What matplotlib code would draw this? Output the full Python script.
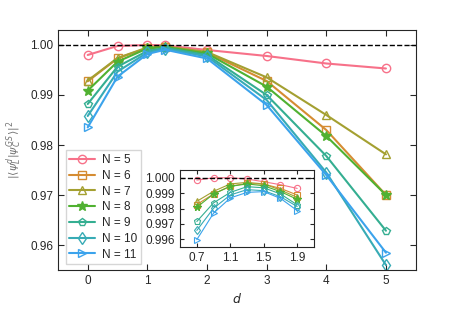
import numpy as np
import matplotlib
matplotlib.use('Agg')
import matplotlib.pyplot as plt
import seaborn as sns

sns.set_style('ticks')
plt.rcParams['font.family'] = ['Liberation Sans', 'DejaVu Sans']
plt.rcParams['mathtext.fontset'] = 'dejavusans'

# main panel data
d = [0, 0.5, 1, 1.3, 2, 3, 4, 5]
labels = ['N = 5', 'N = 6', 'N = 7', 'N = 8', 'N = 9', 'N = 10', 'N = 11']
markers = ['o', 's', '^', '*', 'p', 'd', '>']
f5 = [0.9980, 0.9998, 1.0000, 0.99992, 0.9990, 0.9978, 0.9963, 0.9953]
f6 = [0.99273, 0.99733, 0.9994, 0.99963, 0.9985, 0.9928, 0.9830, 0.9700]
f7 = [0.99287, 0.99740, 0.9995, 0.99970, 0.9986, 0.99353, 0.9860, 0.97813]
f8 = [0.99087, 0.99667, 0.9993, 0.99960, 0.9983, 0.99167, 0.9818, 0.9700]
f9 = [0.98820, 0.99567, 0.9988, 0.99942, 0.9980, 0.9900, 0.9778, 0.96287]
f10 = [0.98580, 0.99467, 0.9985, 0.99923, 0.9977, 0.9890, 0.9745, 0.9560]
f11 = [0.98353, 0.99367, 0.9982, 0.99905, 0.9973, 0.9880, 0.9740, 0.95847]
fid = [f5, f6, f7, f8, f9, f10, f11]

# inset data
d_in = [0.7, 0.9, 1.1, 1.3, 1.5, 1.7, 1.9]
g5 = [0.99985, 1.0000, 1.0000, 0.99992, 0.99974, 0.99955, 0.99931]
g6 = [0.99826, 0.99895, 0.99946, 0.99963, 0.99959, 0.99931, 0.99888]
g7 = [0.99847, 0.99912, 0.99960, 0.99970, 0.99960, 0.99920, 0.99873]
g8 = [0.99808, 0.99895, 0.99944, 0.99960, 0.99948, 0.99910, 0.99860]
g9 = [0.99716, 0.99837, 0.99905, 0.99942, 0.99935, 0.99895, 0.99824]
g10 = [0.99658, 0.99802, 0.99888, 0.99923, 0.99916, 0.99877, 0.99813]
g11 = [0.99598, 0.99770, 0.99869, 0.99905, 0.99910, 0.99866, 0.99787]
fid_in = [g5, g6, g7, g8, g9, g10, g11]

colors = sns.color_palette('husl', 9)[:7]

fig = plt.figure(figsize=(4.63, 3.09), dpi=100)
ax = fig.add_axes([0.125, 0.126, 0.773, 0.777])

for y, c, m, lab in zip(fid, colors, markers, labels):
    if m == '*':
        ax.plot(d, y, color=c, marker=m, ms=7, mfc=c, mec=c, lw=1.5, label=lab)
    else:
        ax.plot(d, y, color=c, marker=m, ms=6, mfc='none', mec=c, mew=1.0,
                lw=1.5, label=lab)
ax.axhline(1.0, color='k', ls='--', lw=1)

ax.set_xlim(-0.5, 5.5)
ax.set_ylim(0.955, 1.003)
ax.set_xticks([0, 1, 2, 3, 4, 5])
ax.set_yticks([0.96, 0.97, 0.98, 0.99, 1.00])
ax.set_yticklabels(['0.96', '0.97', '0.98', '0.99', '1.00'])
ax.tick_params(direction='in', top=True, right=True, labelsize=8.5, length=4)
ax.set_xlabel(r'$d$', fontsize=9)
ax.set_ylabel(r'$|\langle\psi_L^d|\psi_C^{GS}\rangle|^2$', fontsize=8, color='0.45')
ax.legend(loc='lower left', fontsize=8.5, frameon=True, labelspacing=0.32,
          handlelength=2.2, borderpad=0.3, handletextpad=0.6, fancybox=False,
          edgecolor='0.8', bbox_to_anchor=(0.005, 0.0))

ins = fig.add_axes([0.389, 0.2006, 0.289, 0.249])
for y, c, m in zip(fid_in, colors, markers):
    if m == '*':
        ins.plot(d_in, y, color=c, marker=m, ms=5.5, mfc=c, mec=c, lw=0.8)
    else:
        ins.plot(d_in, y, color=c, marker=m, ms=4.5, mfc='none', mec=c, mew=0.8, lw=0.8)
ins.axhline(1.0, color='k', ls='--', lw=1)
ins.set_xlim(0.5, 2.1)
ins.set_ylim(0.9955, 1.0005)
ins.set_xticks([0.7, 1.1, 1.5, 1.9])
ins.set_yticks([0.996, 0.997, 0.998, 0.999, 1.000])
ins.set_yticklabels(['0.996', '0.997', '0.998', '0.999', '1.000'])
ins.tick_params(direction='in', top=True, right=True, labelsize=8.5, length=3)

fig.savefig('out.png', dpi=100)
